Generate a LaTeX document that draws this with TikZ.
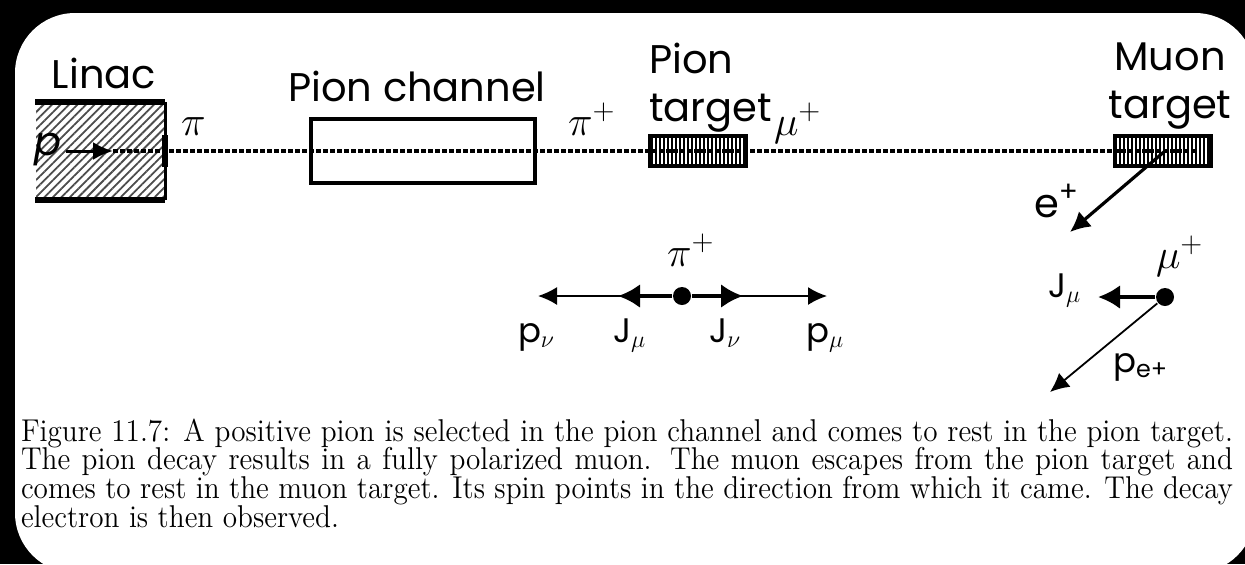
\documentclass[tikz,border=0pt]{standalone}
\usepackage{graphicx}
\usepackage{fontspec}
\setsansfont{Poppins}
\usetikzlibrary{arrows.meta,patterns.meta}
\tikzset{
  every picture/.style={line width=1pt},
  lbl/.style={font=\sffamily\fontsize{20}{24}\selectfont,inner sep=0pt},
  sym/.style={lbl,anchor=base west},
  qty/.style={font=\sffamily\fontsize{17}{20}\selectfont,inner sep=0pt,anchor=base west},
  linac/.style={minimum width=64.25pt,minimum height=48pt,inner sep=0pt,
    pattern={Lines[angle=45,distance=3pt,line width=0.9pt]},pattern color=black!70},
  wall/.style={line width=3.2pt},
  chan/.style={draw,line width=2pt,minimum width=112pt,minimum height=32pt,inner sep=0pt},
  tgt/.style={draw,line width=2pt,minimum width=48pt,minimum height=15pt,inner sep=0pt,
    pattern={Lines[angle=90,distance=2pt,line width=0.7pt]}},
  beam/.style={line width=1.6pt,dash pattern=on 2.5pt off 1pt},
  parr/.style={-{Latex[length=10pt,width=9pt]},line width=1.5pt},
  earr/.style={-{Latex[length=10pt,width=10pt]},line width=1.6pt},
  thk/.style={-{Latex[length=11pt,width=12pt]},line width=2pt},
  thn/.style={-{Latex[length=9.5pt,width=9pt]},line width=0.9pt},
  dot/.style={circle,fill,inner sep=0pt,minimum size=9pt},
  captxt/.style={inner sep=0pt,anchor=base west,font=\rmfamily\fontsize{14.6}{13.4}\selectfont},
}
\begin{document}
\begin{tikzpicture}[x=0.5pt,y=-0.5pt]
  \useasboundingbox (0,0) rectangle (1245,564);
  \fill[black] (0,0) rectangle (1245,564);
  \fill[white,rounded corners=30pt] (15,13) rectangle (1255,573);

  \node[linac] (lin) at (100.25,151) {};
  \draw[wall] (lin.north west) -- (lin.north east);
  \draw[wall] (lin.south west) -- (lin.south east);
  \draw[line width=1.75pt] (lin.north east) -- (lin.south east);
  \draw[line width=3pt] ([yshift=8pt]lin.east) -- ([yshift=-8pt]lin.east);
  \node[chan] (pc) at (423,151) {};
  \node[tgt] (pt) at (698,151) {};
  \node[tgt] (mt) at (1163,151) {};

  \coordinate (pin) at (66,151);
  \coordinate (bs) at (113,151);
  \coordinate (be) at (1197,151);
  \draw[beam] (bs) -- (be);
  \draw[parr] (pin) -- (bs);

  \node[lbl,anchor=base] (tlin) at (104,88) {Linac};
  \node[lbl,anchor=base] (tpc) at (417,101) {Pion channel};
  \node[lbl,anchor=north west,align=left] (tpt) at (648,42) {Pion\\target};
  \node[lbl,anchor=north,align=center] (tmt) at (1170,42) {Muon\\target};
  \node[sym] (lp) at (33,155) {\itshape p};
  \node[sym] (lpi) at (180,135) {$\pi$};
  \node[sym] (lpip) at (567,135) {$\pi^+$};
  \node[sym] (lmup) at (773,135) {$\mu^+$};

  \coordinate (ms) at (1165,151);
  \coordinate (ee) at (1070,232);
  \draw[earr] (ms) -- (ee);
  \node[sym] (lep) at (1033,217) {e\textsuperscript{+}};

  \node[dot] (pion) at (682,296) {};
  \node[sym] (lpi2) at (666,266) {$\pi^+$};
  \coordinate (pl) at (538,296);
  \coordinate (jl) at (618,296);
  \coordinate (jr) at (743,296);
  \coordinate (pr) at (827,296);
  \draw[thn] (pion) -- (pl);
  \draw[thn] (pion) -- (pr);
  \draw[thk] (pion) -- (jl);
  \draw[thk] (pion) -- (jr);
  \node[qty] (lpn) at (517,342) {p$_\nu$};
  \node[qty] (ljm) at (612,342) {J$_\mu$};
  \node[qty] (ljn) at (708,342) {J$_\nu$};
  \node[qty] (lpm) at (805,342) {p$_\mu$};

  \node[dot] (muon) at (1165,297) {};
  \node[sym] (lmu2) at (1155,268) {$\mu^+$};
  \coordinate (jm) at (1098,297);
  \coordinate (pe) at (1050,392);
  \draw[thk] (muon) -- (jm);
  \draw[thn] (muon) -- (pe);
  \node[qty] (ljm2) at (1047,297) {J$_\mu$};
  \node[qty] (lpe) at (1112,372) {p\textsubscript{e+}};

  \node[captxt] (capt) at (20,441) {\scalebox{1}[1.08]{\parbox[t]{606pt}{Figure 11.7: A positive pion is selected in the pion channel and comes to rest in the pion target.\linebreak
  The pion decay results in a fully polarized muon.  The muon escapes from the pion target and\linebreak
  comes to rest in the muon target. Its spin points in the direction from which it came. The decay\linebreak
  electron is then observed.}}};
\end{tikzpicture}
\end{document}
